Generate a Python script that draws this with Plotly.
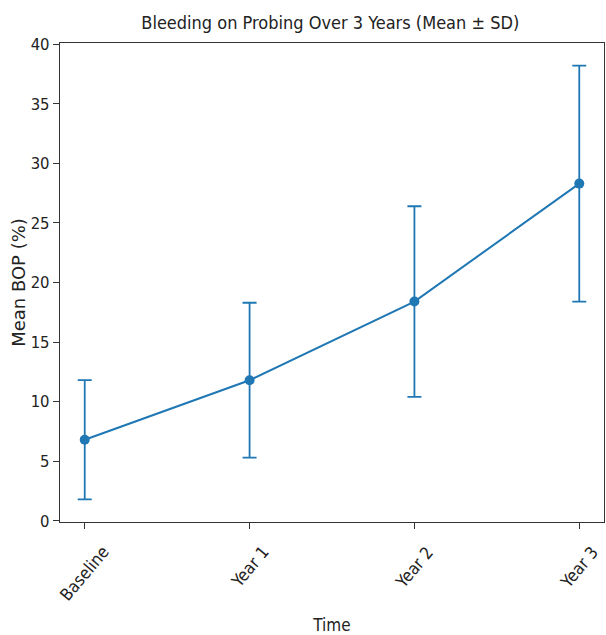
import plotly.graph_objects as go

categories = ["Baseline", "Year 1", "Year 2", "Year 3"]
mean_bop = [6.8, 11.8, 18.4, 28.3]
sd_bop = [5.0, 6.5, 8.0, 9.9]
y_ticks = [0, 5, 10, 15, 20, 25, 30, 35, 40]

FONT = "DejaVu Sans Condensed, Liberation Sans Narrow, DejaVu Sans, sans-serif"
COLOR = "#1f77b4"

xpos = list(range(len(categories)))

fig = go.Figure()
fig.add_trace(go.Scatter(
    x=xpos, y=mean_bop, mode="lines+markers",
    line=dict(color=COLOR, width=2),
    marker=dict(color=COLOR, size=10),
    error_y=dict(type="data", array=sd_bop, visible=True, color=COLOR,
                 thickness=1.8, width=7),
    showlegend=False,
))

for i, c in enumerate(categories):
    fig.add_annotation(x=i, y=-0.036, xref="x", yref="paper", text=c,
                       showarrow=False, textangle=-50, xanchor="center",
                       yanchor="top", font=dict(family=FONT, size=17, color="#222"))

fig.update_layout(
    width=606, height=635,
    paper_bgcolor="white", plot_bgcolor="white",
    margin=dict(l=60, r=2, t=43, b=113, autoexpand=False),
    title=dict(text="Bleeding on Probing Over 3 Years (Mean ± SD)",
               x=0.545, xanchor="center", y=0.965, yanchor="middle",
               font=dict(family=FONT, size=18, color="#222")),
    font=dict(family=FONT, size=16, color="#222"),
)
fig.update_xaxes(
    automargin=False,
    range=[-0.15, 3.15], tickvals=xpos, ticktext=["", "", "", ""],
    ticks="outside", ticklen=6, tickcolor="#333", showgrid=False, zeroline=False,
    showline=True, linecolor="#333", linewidth=1.3, mirror=True,
    title=dict(text="Time", font=dict(family=FONT, size=17, color="#222"), standoff=87),
)
fig.update_yaxes(
    automargin=False,
    range=[-0.1, 40.1], tickvals=y_ticks, ticks="outside", ticklen=6, tickcolor="#333",
    showgrid=False, zeroline=False,
    showline=True, linecolor="#333", linewidth=1.3, mirror=True,
    tickfont=dict(family=FONT, size=16.5, color="#222"),
    title=dict(text="Mean BOP (%)", font=dict(family="DejaVu Sans, sans-serif", size=18, color="#222"), standoff=0),
)

fig.write_html("out.html", post_script="document.body.style.margin='0';",
               config={"displayModeBar": False})
